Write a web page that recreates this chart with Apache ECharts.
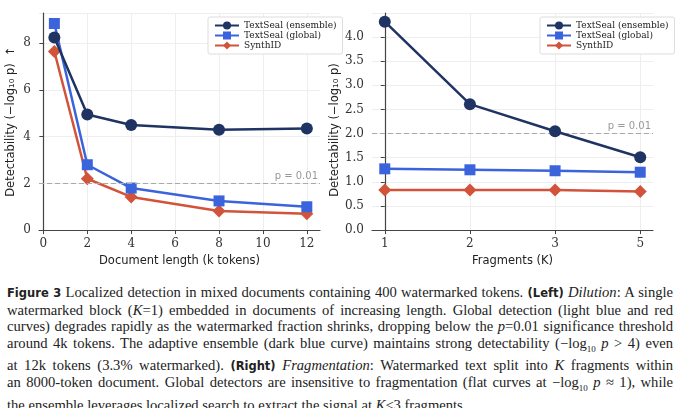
<!DOCTYPE html>
<html><head><meta charset="utf-8">
<script src="https://cdn.jsdelivr.net/npm/echarts@6/dist/echarts.min.js"></script>
<style>
body{margin:0;background:#fff;width:680px;height:408px;overflow:hidden}
#chart{width:680px;height:272px}
#cap{position:absolute;left:7px;top:284px;width:666px;font-family:'Liberation Serif',serif;font-size:14.6px;line-height:16.5px;color:#222}
#cap div{text-align:justify;text-align-last:justify;white-space:nowrap;overflow:visible}
#cap div.last{text-align-last:left}
#cap b{font-family:'DejaVu Sans',sans-serif;font-size:11.5px}
</style></head><body>
<div id="chart"></div>
<div id="cap">
<div><b>Figure 3</b> Localized detection in mixed documents containing 400 watermarked tokens. <b>(Left)</b> <i>Dilution</i>: A single</div>
<div>watermarked block (<i>K</i>=1) embedded in documents of increasing length. Global detection (light blue and red</div>
<div>curves) degrades rapidly as the watermarked fraction shrinks, dropping below the <i>p</i>=0.01 significance threshold</div>
<div>around 4k tokens. The adaptive ensemble (dark blue curve) maintains strong detectability (−log<sub style="font-size:9px">10</sub> <i>p</i> &gt; 4) even</div>
<div>at 12k tokens (3.3% watermarked). <b>(Right)</b> <i>Fragmentation</i>: Watermarked text split into <i>K</i> fragments within</div>
<div>an 8000-token document. Global detectors are insensitive to fragmentation (flat curves at −log<sub style="font-size:9px">10</sub> <i>p</i> ≈ 1), while</div>
<div class="last">the ensemble leverages localized search to extract the signal at <i>K</i>≤3 fragments.</div>
</div>
<script>
var chart = echarts.init(document.getElementById('chart'));
// 左图: 文档长度
var docLen = [0.5, 2, 4, 8, 12];
var left = {
    'TextSeal (ensemble)': [8.25, 4.95, 4.5, 4.3, 4.35],
    'TextSeal (global)': [8.85, 2.8, 1.8, 1.25, 1.0],
    'SynthID': [7.65, 2.2, 1.42, 0.82, 0.7]
};
// 右图: 片段数
var frags = ['1', '2', '3', '5'];
var right = {
    'TextSeal (ensemble)': [4.32, 2.61, 2.05, 1.51],
    'TextSeal (global)': [1.27, 1.25, 1.23, 1.2],
    'SynthID': [0.83, 0.83, 0.83, 0.8]
};
var styles = {
    'TextSeal (ensemble)': {color: '#1f3463', symbol: 'circle', size: 12},
    'TextSeal (global)': {color: '#3b63dc', symbol: 'rect', size: 11},
    'SynthID': {color: '#d3533a', symbol: 'diamond', size: 13}
};
var names = ['TextSeal (ensemble)', 'TextSeal (global)', 'SynthID'];
var axisLab = {fontFamily: 'DejaVu Serif', fontSize: 12, color: '#333'};
var nameSty = {fontFamily: 'DejaVu Sans', fontSize: 11.5, color: '#222'};
var yName = 'Detectability (−log₁₀ p)  ↑';

function xAxisBase(gi, ticks) {
    return {
        gridIndex: gi, type: 'value',
        axisLine: {lineStyle: {color: '#444', width: 1.2}},
        axisTick: {lineStyle: {color: '#444'}, length: 4, customValues: ticks},
        splitLine: {lineStyle: {color: '#eeeeee'}},
        nameTextStyle: nameSty, nameLocation: 'middle', nameGap: 20
    };
}
function refLine() {
    return {
        silent: true, symbol: 'none',
        lineStyle: {color: '#aaa', type: [5, 3], width: 1.2},
        label: {position: 'insideEndTop', formatter: 'p = 0.01', color: '#999', fontSize: 10, fontFamily: 'DejaVu Sans', distance: 2},
        data: [{yAxis: 2}]
    };
}

var series = [];
names.forEach(function (n, i) {
    var s = styles[n];
    series.push({
        name: n, type: 'line', xAxisIndex: 0, yAxisIndex: 0,
        data: docLen.map(function (x, j) { return [x, left[n][j]]; }),
        symbol: s.symbol, symbolSize: s.size, lineStyle: {width: 2.5, color: s.color},
        itemStyle: {color: s.color}, z: 3 + (2 - i),
        markLine: i == 0 ? refLine() : undefined
    });
    series.push({
        name: n, type: 'line', xAxisIndex: 1, yAxisIndex: 1,
        data: right[n].map(function (v, j) { return [j, v]; }),
        symbol: s.symbol, symbolSize: s.size, lineStyle: {width: 2.5, color: s.color},
        itemStyle: {color: s.color}, z: 3 + (2 - i),
        markLine: i == 0 ? refLine() : undefined
    });
});

function legendCfg(l) {
    return {
        data: names, left: l, top: 17, orient: 'vertical', itemGap: 1,
        itemWidth: 24, itemHeight: 10, padding: [4, 6],
        borderColor: '#ddd', borderWidth: 1, borderRadius: 2, backgroundColor: '#fff',
        textStyle: {fontFamily: 'DejaVu Serif', fontSize: 9, color: '#222'}
    };
}

var option = {
    animation: false,
    backgroundColor: '#fff',
    legend: [legendCfg(208), legendCfg(540)],
    grid: [
        {left: 39, right: 360, top: 13, bottom: 38},
        {left: 372, right: 27, top: 13, bottom: 38}
    ],
    xAxis: [
        Object.assign(xAxisBase(0, [0, 2, 4, 6, 8, 10, 12]), {min: -0.2, max: 12.6, name: 'Document length (k tokens)',
            axisLabel: Object.assign({}, axisLab, {customValues: [0, 2, 4, 6, 8, 10, 12]})}),
        Object.assign(xAxisBase(1, [0, 1, 2, 3]), {min: -0.15, max: 3.15, name: 'Fragments (K)',
            axisLabel: Object.assign({}, axisLab, {customValues: [0, 1, 2, 3],
                formatter: function (v) { return frags[v] || ''; }})})
    ],
    yAxis: [
        {gridIndex: 0, type: 'value', min: 0, max: 9.3, interval: 2, name: yName, nameLocation: 'middle', nameGap: 22,
            nameTextStyle: nameSty, axisLine: {show: true, lineStyle: {color: '#444', width: 1.2}},
            axisTick: {show: true, length: 4}, splitLine: {lineStyle: {color: '#eeeeee'}},
            axisLabel: Object.assign({}, axisLab, {showMaxLabel: false,
                formatter: function (v) { return v > 9 ? '' : v; }})},
        {gridIndex: 1, type: 'value', min: 0, max: 4.5, interval: 0.5, name: yName, nameLocation: 'middle', nameGap: 28,
            nameTextStyle: nameSty, axisLine: {show: true, lineStyle: {color: '#444', width: 1.2}},
            axisTick: {show: true, length: 4}, splitLine: {lineStyle: {color: '#eeeeee'}},
            axisLabel: Object.assign({}, axisLab, {showMaxLabel: false,
                formatter: function (v) { return v > 4.2 ? '' : v.toFixed(1); }})}
    ],
    series: series
};
chart.setOption(option);
</script>
</body></html>
